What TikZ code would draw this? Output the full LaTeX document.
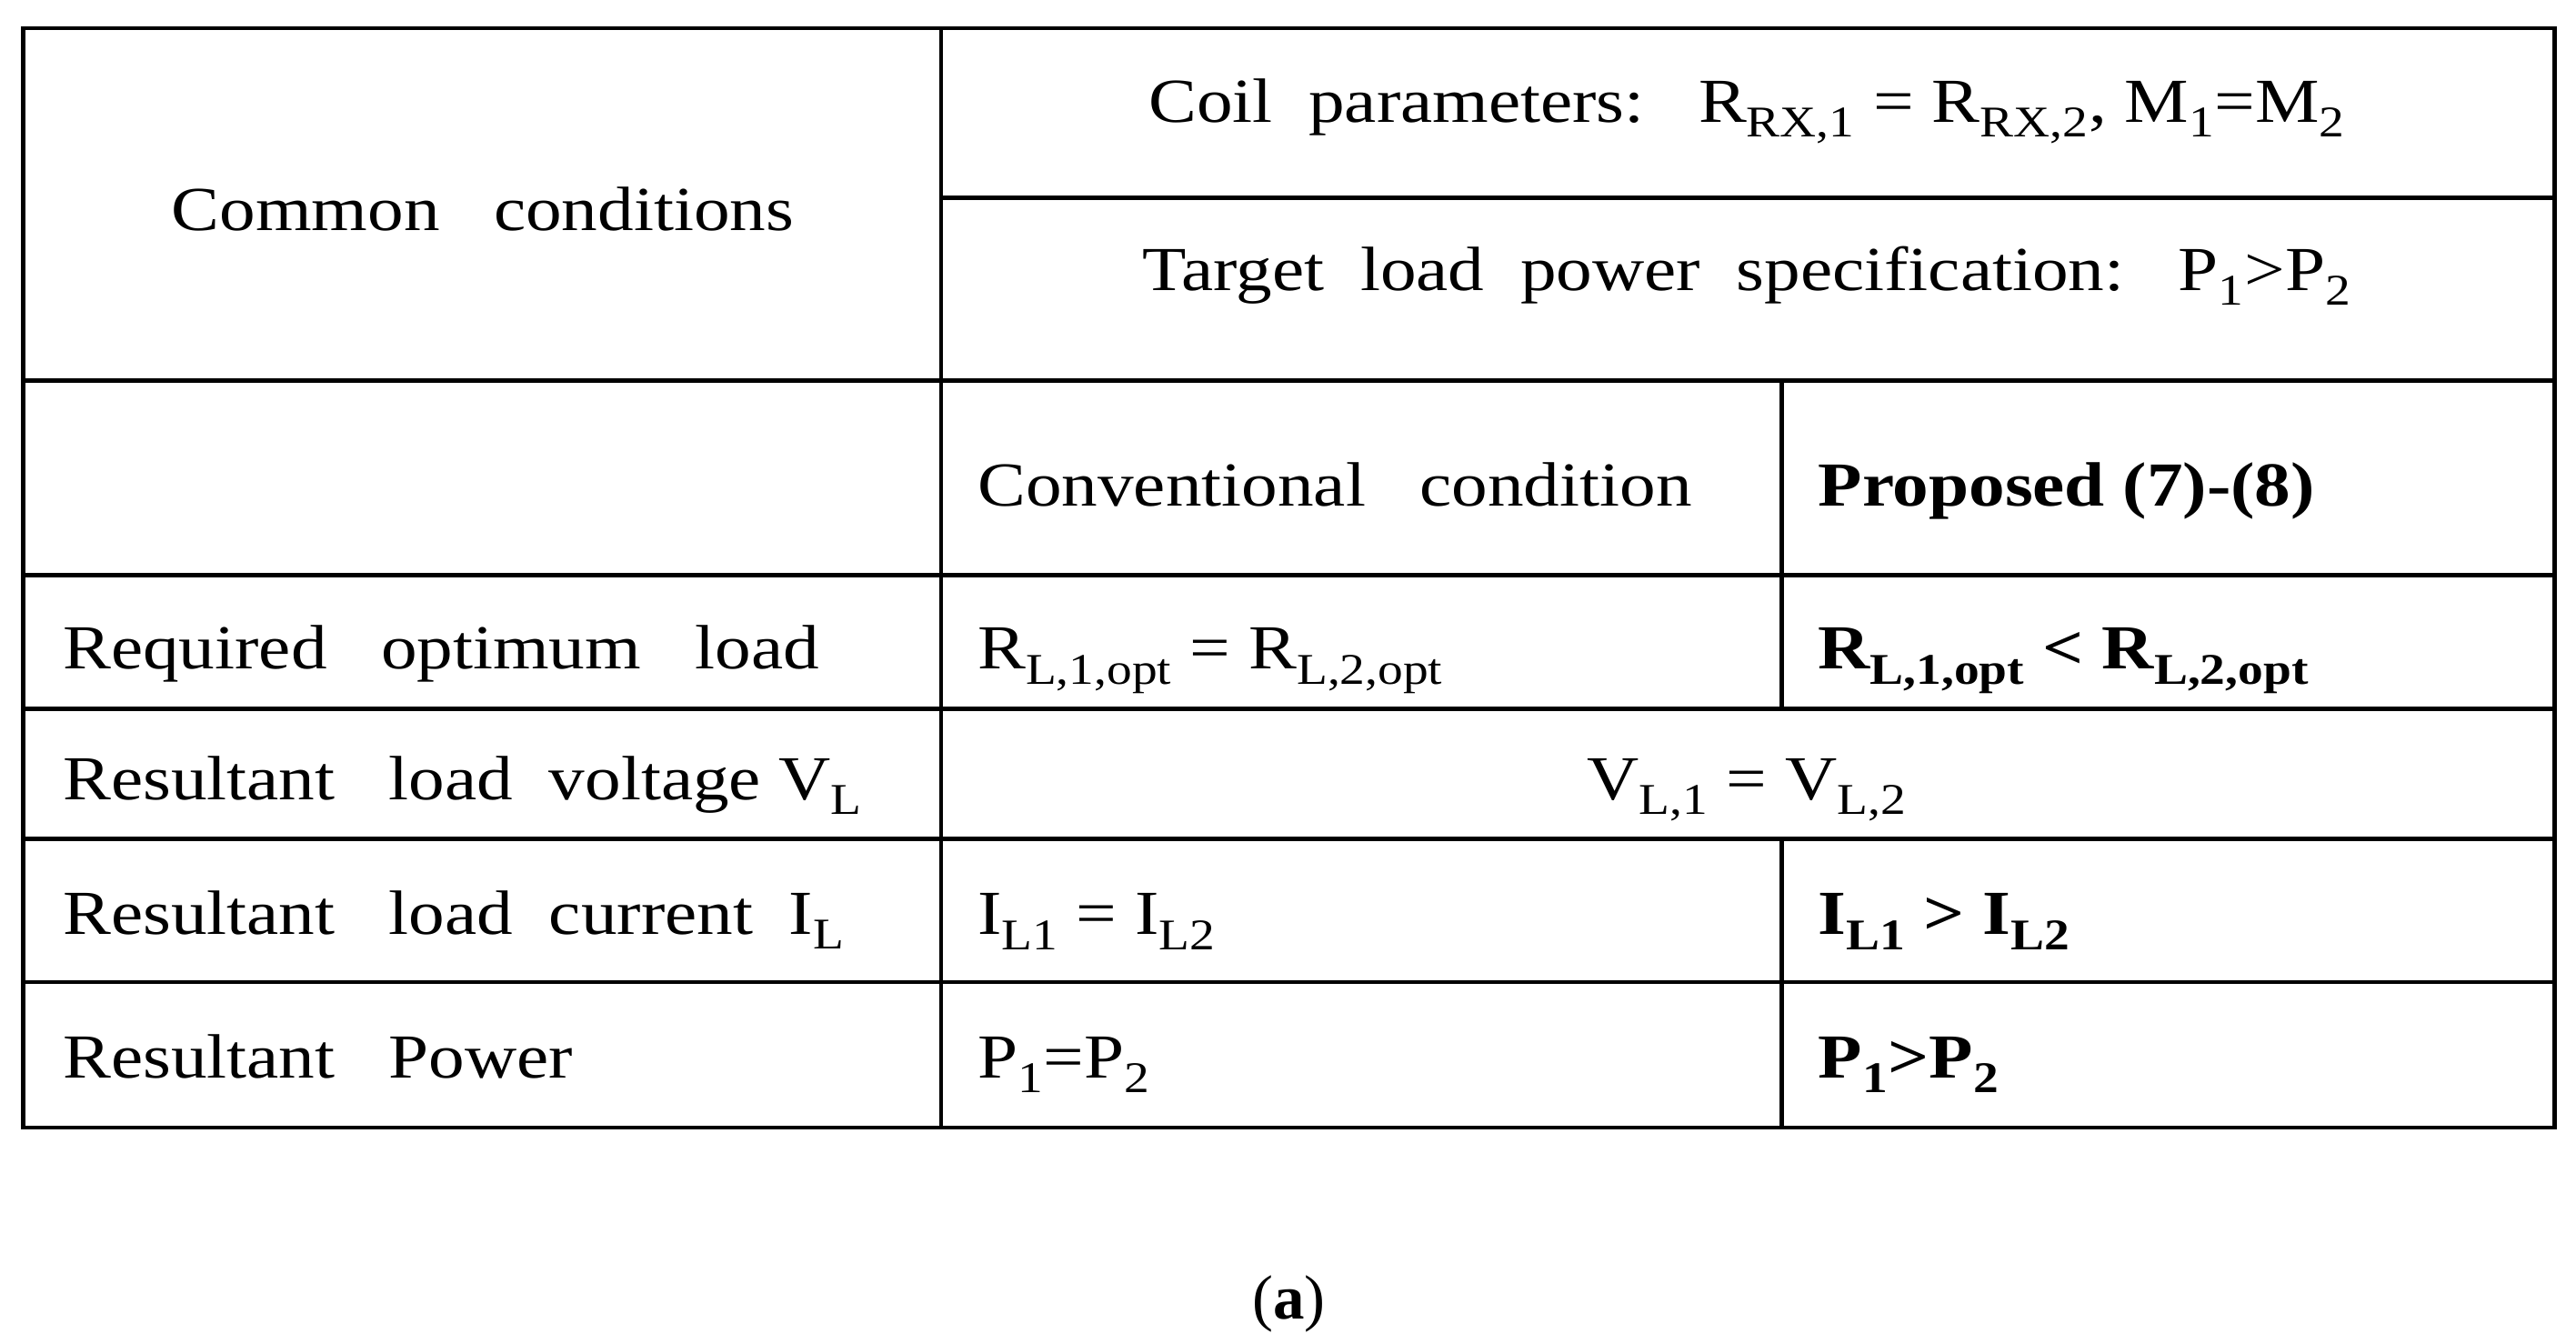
\documentclass[tikz,border=0pt]{standalone}
\usepackage{fontspec}
\setmainfont[FakeStretch=1.15]{Liberation Serif}
\newfontfamily\labfont{Liberation Serif}
\begin{document}
\begin{tikzpicture}[x=1pt,y=-1pt,
  ln/.style={line width=2.4pt},
  tx/.style={font=\fontsize{38}{44}\selectfont, inner sep=0pt, anchor=base west},
  tc/.style={font=\fontsize{38}{44}\selectfont, inner sep=0pt, anchor=base}]
\useasboundingbox (0,0) rectangle (1563,815);
% lines
\draw[ln] (14,17) rectangle (1550,684);
\draw[ln] (571,17) -- (571,684);
\draw[ln] (1081,231) -- (1081,430);
\draw[ln] (1081,509) -- (1081,684);
\draw[ln] (571,120) -- (1550,120);
\draw[line width=3pt] (14,231) -- (1550,231);
\draw[ln] (14,349) -- (1550,349);
\draw[ln] (14,430) -- (1550,430);
\draw[ln] (14,509) -- (1550,509);
\draw[ln] (14,596) -- (1550,596);
% texts
\node[tc] (cc) at (293,140) {Common\ \ \ conditions};
\node[tc] (cp) at (1060,74) {Coil\ \ parameters:\ \ \ R\textsubscript{RX,1} = R\textsubscript{RX,2}, M\textsubscript{1}=M\textsubscript{2}};
\node[tc] (tl) at (1060,176) {Target\ \ load\ \ power\ \ specification:\ \ \ P\textsubscript{1}>P\textsubscript{2}};
\node[tx] (cv) at (593,307) {Conventional\ \ \ condition};
\node[tx] (pr) at (1103,307) {\textbf{Proposed (7)-(8)}};
\node[tx] (r1) at (38,406) {Required\ \ \ optimum\ \ \ load};
\node[tx] (r1a) at (593,406) {R\textsubscript{L,1,opt} = R\textsubscript{L,2,opt}};
\node[tx] (r1b) at (1103,406) {\textbf{R\textsubscript{L,1,opt} < R\textsubscript{L,2,opt}}};
\node[tx] (r2) at (38,485) {Resultant\ \ \ load\ \ voltage\ V\textsubscript{L}};
\node[tc] (r2a) at (1060,485) {V\textsubscript{L,1} = V\textsubscript{L,2}};
\node[tx] (r3) at (38,567) {Resultant\ \ \ load\ \ current\ \ I\textsubscript{L}};
\node[tx] (r3a) at (593,567) {I\textsubscript{L1} = I\textsubscript{L2}};
\node[tx] (r3b) at (1103,567) {\textbf{I\textsubscript{L1} > I\textsubscript{L2}}};
\node[tx] (r4) at (38,654) {Resultant\ \ \ Power};
\node[tx] (r4a) at (593,654) {P\textsubscript{1}=P\textsubscript{2}};
\node[tx] (r4b) at (1103,654) {\textbf{P\textsubscript{1}>P\textsubscript{2}}};
\node[tc] (lab) at (782,800) {\labfont(\textbf{a})};
\end{tikzpicture}
\end{document}
